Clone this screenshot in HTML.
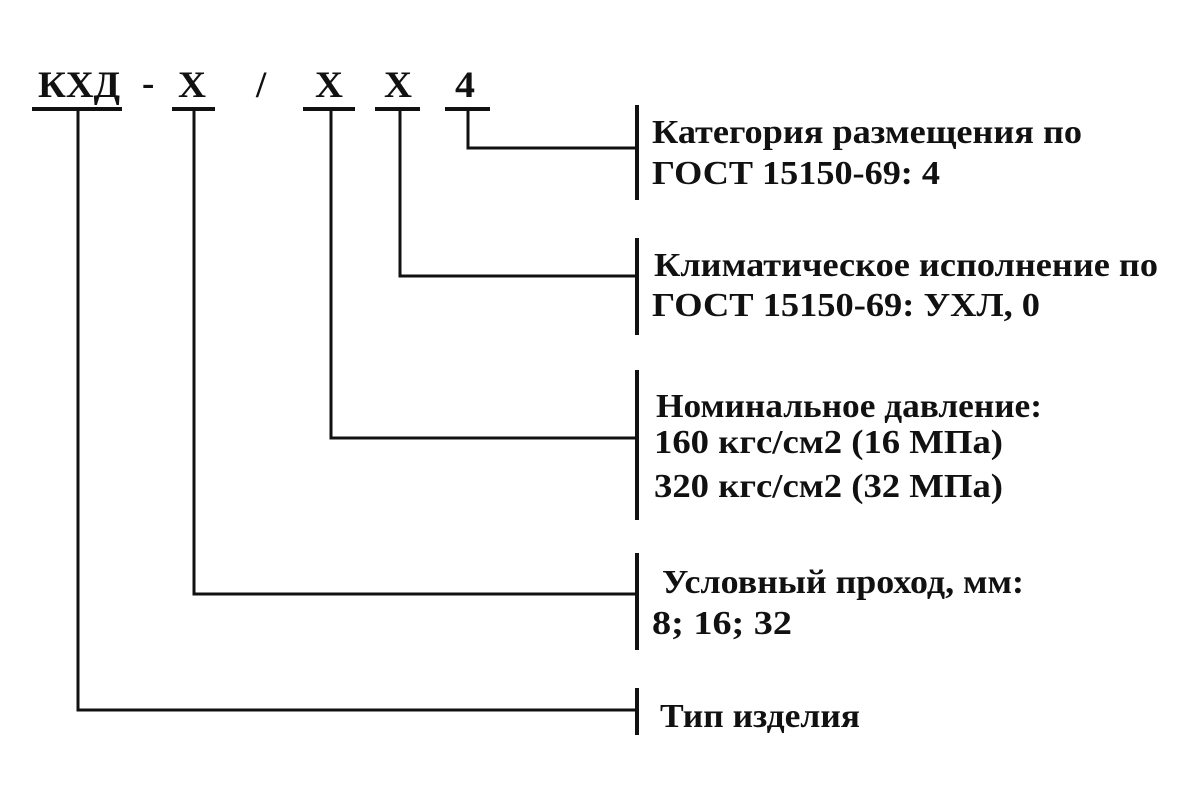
<!DOCTYPE html>
<html><head><meta charset="utf-8"><style>
body{margin:0;background:#fff;}
svg{display:block}
text{font-family:"Liberation Serif",serif;font-weight:bold;fill:#111}
</style></head><body>
<svg width="1200" height="801" viewBox="0 0 1200 801">
<g font-size="37">
<text x="38" y="97" textLength="82" lengthAdjust="spacingAndGlyphs">КХД</text>
<text x="142" y="95">-</text>
<text x="178" y="97" textLength="28" lengthAdjust="spacingAndGlyphs">X</text>
<text x="256" y="97">/</text>
<text x="315" y="97" textLength="28" lengthAdjust="spacingAndGlyphs">X</text>
<text x="384" y="97" textLength="28" lengthAdjust="spacingAndGlyphs">X</text>
<text x="455" y="97" textLength="20" lengthAdjust="spacingAndGlyphs">4</text>
</g>
<g stroke="#111" fill="none">
<g stroke-width="4">
<line x1="32" y1="109" x2="122" y2="109"/>
<line x1="172" y1="109" x2="215" y2="109"/>
<line x1="303" y1="109" x2="355" y2="109"/>
<line x1="375" y1="109" x2="420" y2="109"/>
<line x1="445" y1="109" x2="490" y2="109"/>
</g>
<g stroke-width="3">
<polyline points="78,109 78,710 637,710"/>
<polyline points="194,109 194,594 637,594"/>
<polyline points="331,109 331,438 637,438"/>
<polyline points="400,109 400,276 637,276"/>
<polyline points="468,109 468,148 637,148"/>
</g>
<g stroke-width="4">
<line x1="637" y1="105" x2="637" y2="200"/>
<line x1="637" y1="238" x2="637" y2="335"/>
<line x1="637" y1="370" x2="637" y2="520"/>
<line x1="637" y1="553" x2="637" y2="650"/>
<line x1="637" y1="688" x2="637" y2="735"/>
</g>
</g>
<g font-size="34">
<text x="652" y="143" textLength="430" lengthAdjust="spacingAndGlyphs">Категория размещения по</text>
<text x="652" y="184" textLength="288" lengthAdjust="spacingAndGlyphs">ГОСТ 15150-69: 4</text>
<text x="654" y="276" textLength="504" lengthAdjust="spacingAndGlyphs">Климатическое исполнение по</text>
<text x="652" y="316" textLength="388" lengthAdjust="spacingAndGlyphs">ГОСТ 15150-69: УХЛ, 0</text>
<text x="656" y="417" textLength="386" lengthAdjust="spacingAndGlyphs">Номинальное давление:</text>
<text x="654" y="453" textLength="349" lengthAdjust="spacingAndGlyphs">160 кгс/см2 (16 МПа)</text>
<text x="654" y="497" textLength="349" lengthAdjust="spacingAndGlyphs">320 кгс/см2 (32 МПа)</text>
<text x="662" y="593" textLength="362" lengthAdjust="spacingAndGlyphs">Условный проход, мм:</text>
<text x="652" y="634" textLength="140" lengthAdjust="spacingAndGlyphs">8; 16; 32</text>
<text x="660" y="727" textLength="200" lengthAdjust="spacingAndGlyphs">Тип изделия</text>
</g>
</svg>
</body></html>
